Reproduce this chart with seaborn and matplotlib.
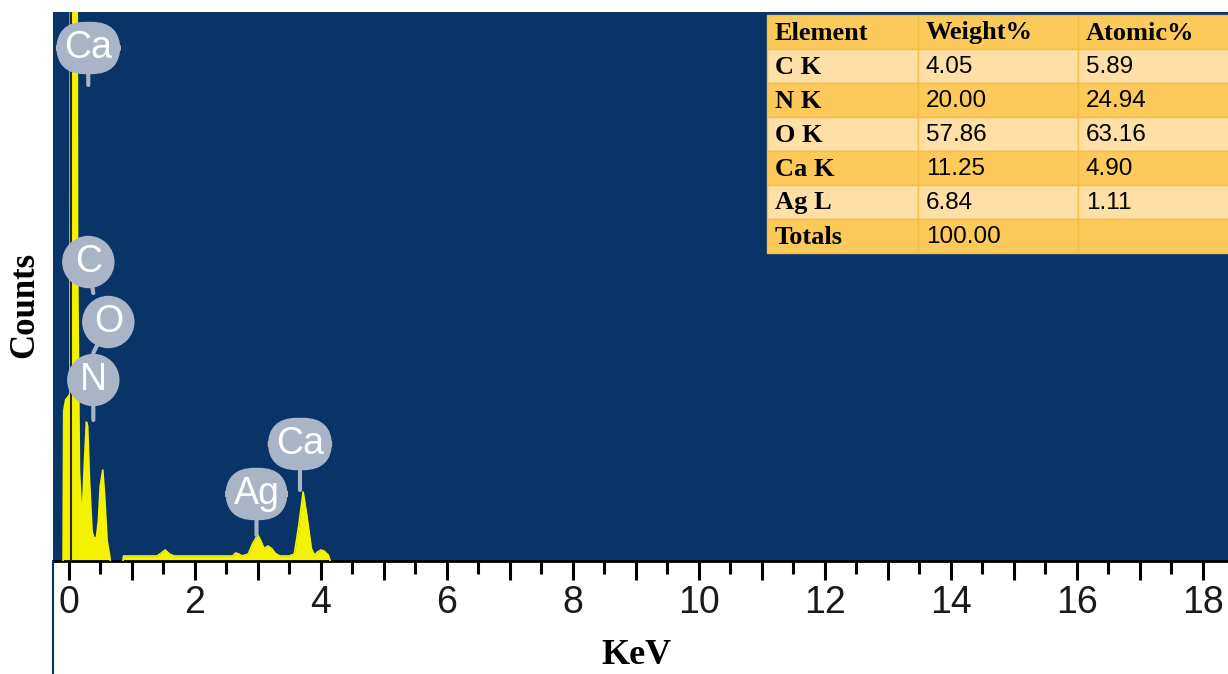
import numpy as np
import pandas as pd
import matplotlib
matplotlib.use("Agg")
import matplotlib.pyplot as plt
import seaborn as sns
from matplotlib.lines import Line2D

# ---------------- data ----------------
# EDX spectrum (energy in keV, counts)
seg1_kev = [-0.09, -0.08, -0.05, 0.00, 0.02, 0.03, 0.12, 0.14, 0.17, 0.21, 0.25, 0.28,
            0.30, 0.33, 0.37, 0.40, 0.44, 0.47, 0.50, 0.54, 0.57, 0.61, 0.65, 0.66]
seg1_counts = [0, 300, 322, 330, 335, 2500, 2500, 600, 180, 80, 200, 278,
               270, 160, 60, 45, 48, 80, 150, 182, 130, 40, 10, 0]
seg2_kev = [0.86, 0.87, 1.40, 1.47, 1.53, 1.60, 1.67, 2.60, 2.65, 2.70, 2.75, 2.85,
            2.92, 3.00, 3.05, 3.10, 3.16, 3.22, 3.28, 3.35, 3.50, 3.58, 3.65, 3.72,
            3.78, 3.85, 3.90, 3.95, 4.00, 4.05, 4.12, 4.15]
seg2_counts = [0, 10, 10, 16, 22, 14, 10, 10, 16, 14, 10, 14,
               35, 52, 40, 25, 30, 25, 15, 10, 10, 14, 70, 138,
               90, 25, 12, 18, 22, 20, 12, 0]

# peak labels: name, energy (keV) and counts where the pointer ends
peak_labels = ["Ca", "C", "O", "N", "Ag", "Ca"]
peak_kev = [0.31, 0.39, 0.39, 0.39, 2.98, 3.67]
peak_counts = [952, 536, 416, 282, 52, 142]

# quantification table
tab_header = ["Element", "Weight%", "Atomic%"]
tab_elements = ["C K", "N K", "O K", "Ca K", "Ag L", "Totals"]
tab_weight = ["4.05", "20.00", "57.86", "11.25", "6.84", "100.00"]
tab_atomic = ["5.89", "24.94", "63.16", "4.90", "1.11", ""]

x_tick_labels = ["0", "2", "4", "6", "8", "10", "12", "14", "16", "18"]

# ---------------- style ----------------
NAVY = "#093468"
YELLOW = "#F5F200"
BALLOON = "#AAB4C7"

sns.set_theme(style="white")
plt.rcParams["font.family"] = ["Liberation Sans", "DejaVu Sans"]

W, H = 1228, 674
fig = plt.figure(figsize=(W / 100, H / 100), dpi=100)
ax_left, ax_right, ax_top, ax_bot = 53, 1228, 12, 561
ax = fig.add_axes([ax_left / W, 1 - ax_bot / H, (ax_right - ax_left) / W, (ax_bot - ax_top) / H])
ax.set_facecolor(NAVY)

df = pd.concat([
    pd.DataFrame({"kev": seg1_kev, "counts": seg1_counts, "seg": 1}),
    pd.DataFrame({"kev": seg2_kev, "counts": seg2_counts, "seg": 2}),
], ignore_index=True)

for _, d in df.groupby("seg"):
    ax.fill_between(d["kev"], 0, d["counts"], color=YELLOW, lw=0, zorder=2)
sns.lineplot(data=df, x="kev", y="counts", units="seg", estimator=None, sort=False,
             color=YELLOW, lw=1.2, ax=ax, zorder=3)

# zero marker line
ax.axvline(0.03, color="#2a2a2a", lw=1.5, zorder=4)

ax.set_xlim(-0.25, 18.4)
ax.set_ylim(0, 1098)

# ticks
major = np.arange(0, 19, 1)
ax.set_xticks(major)
ax.set_xticklabels([x_tick_labels[int(v) // 2] if int(v) % 2 == 0 else "" for v in major])
ax.set_xticks(np.arange(0, 18.5, 0.5), minor=True)
ax.tick_params(axis="x", which="major", direction="out", length=14, width=2.2,
               color="black", bottom=True, pad=3, labelsize=27, labelcolor="#1a1a1a")
ax.tick_params(axis="x", which="minor", direction="out", length=9, width=2.2,
               color="black", bottom=True)
ax.set_yticks([])
for s in ["top", "right", "left"]:
    ax.spines[s].set_visible(False)
ax.spines["bottom"].set_color("black")
ax.spines["bottom"].set_linewidth(2)

ax.set_xlabel("")
ax.set_ylabel("")
fig.text(636 / W, 1 - 655 / H, "KeV", ha="center", va="center",
         family="Liberation Serif", fontweight="bold", fontsize=26, color="black")
fig.text(25 / W, 1 - 305 / H, "Counts", rotation=90, ha="center", va="center",
         family="Liberation Serif", fontweight="bold", fontsize=25, color="black")

# thin left border line under the plot
fig.add_artist(Line2D([ax_left / W, ax_left / W], [0, 1 - ax_bot / H],
                      color=NAVY, lw=1.5, transform=fig.transFigure))

# peak balloons
offsets = [(0, 37), (-5, 31), (15, 31), (0, 40), (0, 41), (0, 46)]
for name, kx, cy, (dx, dy) in zip(peak_labels, peak_kev, peak_counts, offsets):
    style = "circle,pad=0.2" if len(name) == 1 else "round,pad=0.2,rounding_size=0.75"
    ax.annotate(name, xy=(kx, cy), xytext=(dx, dy), textcoords="offset pixels",
                ha="center", va="center", fontsize=27, color="white",
                bbox=dict(boxstyle=style, fc=BALLOON, ec=BALLOON, lw=1),
                arrowprops=dict(arrowstyle="-", color=BALLOON, lw=3,
                                shrinkA=0, shrinkB=0),
                zorder=6)

# quantification table (pixel layout)
tx0, ty0 = 767, 15
col_w = [151, 160, 165]
row_h = 34
dark = "#FCC95B"
light = "#FEDFA5"
edge = "#F6BE45"
rows = [tab_header] + [[e, w, a] for e, w, a in zip(tab_elements, tab_weight, tab_atomic)]
for r, row in enumerate(rows):
    fc = dark if r % 2 == 0 else light
    y_top = ty0 + r * row_h
    x = tx0
    for c, txt in enumerate(row):
        rect = plt.Rectangle((x / W, 1 - (y_top + row_h) / H), col_w[c] / W, row_h / H,
                             transform=fig.transFigure, fc=fc, ec=edge, lw=1, zorder=10)
        fig.add_artist(rect)
        bold = (r == 0) or (c == 0)
        fig.text((x + 8) / W, 1 - (y_top + row_h / 2 + 1) / H, txt,
                 ha="left", va="center", zorder=11,
                 family="Liberation Serif" if bold else "Liberation Sans",
                 fontweight="bold" if bold else "normal",
                 fontsize=19 if bold else 17.5, color="black")
        x += col_w[c]

fig.savefig("out.png", dpi=100)
